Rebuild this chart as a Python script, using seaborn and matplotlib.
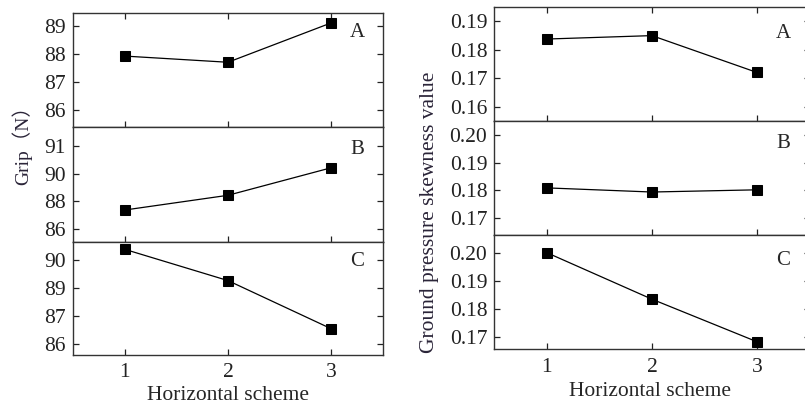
import pandas as pd
import matplotlib
matplotlib.use("Agg")
import matplotlib.pyplot as plt
import seaborn as sns

# horizontal schemes
schemes = [1, 2, 3]
panel_names = ['A', 'B', 'C']

# grip (N)
grip_a = [87.92, 87.70, 89.10]
grip_b = [87.37, 88.44, 90.44]
grip_c = [89.37, 88.26, 86.55]
grip_ticks_a = [86, 87, 88, 89]
grip_labels_a = ['86', '87', '88', '89']
grip_ticks_b = [86, 88, 90, 92]
grip_labels_b = ['86', '88', '90', '91']
grip_ticks_c = [86, 87, 88, 89]
grip_labels_c = ['86', '87', '89', '90']

# ground pressure skewness value, right column
skew_a = [0.1838, 0.1850, 0.1721]
skew_b = [0.1808, 0.1793, 0.1801]
skew_c = [0.2000, 0.1834, 0.1682]
skew_ticks_a = [0.16, 0.17, 0.18, 0.19]
skew_ticks_bc = [0.17, 0.18, 0.19, 0.20]

sns.set_style('ticks')
plt.rcParams['font.family'] = ['Liberation Serif', 'Noto Sans CJK SC', 'DejaVu Sans']
plt.rcParams['font.size'] = 15

fig = plt.figure(figsize=(8.05, 4.05), dpi=100)

# axes boxes [left, bottom, width, height]
left_pos = [[0.0907, 0.6864, 0.385, 0.2815],
            [0.0907, 0.4025, 0.385, 0.2840],
            [0.0907, 0.1235, 0.385, 0.2790]]
right_pos = [[0.614, 0.7012, 0.3916, 0.2807],
             [0.614, 0.4198, 0.3916, 0.2815],
             [0.614, 0.1375, 0.3916, 0.2822]]

left_data = [grip_a, grip_b, grip_c]
left_ticks = [grip_ticks_a, grip_ticks_b, grip_ticks_c]
left_labels = [grip_labels_a, grip_labels_b, grip_labels_c]
left_lims = [(85.4, 89.45), (85.05, 93.4), (85.62, 89.63)]
left_letter_y = [0.825, 0.80, 0.823]

right_data = [skew_a, skew_b, skew_c]
right_ticks = [skew_ticks_a, skew_ticks_bc, skew_ticks_bc]
right_lims = [(0.1551, 0.1949), (0.1637, 0.2051), (0.1655, 0.2063)]
right_letter_y = [0.774, 0.80, 0.78]


def draw_panel(pos, values, ticks, labels, lim, name, letter_y, first, last):
    ax = fig.add_axes(pos)
    df = pd.DataFrame({'scheme': schemes, 'value': values})
    sns.lineplot(data=df, x='scheme', y='value', ax=ax, color='black',
                 marker='s', markersize=6.5, markeredgecolor='black',
                 linewidth=0.9)
    ax.set_xlim(0.5, 3.5)
    ax.set_ylim(*lim)
    ax.set_xticks(schemes)
    ax.set_yticks(ticks)
    ax.set_yticklabels(labels)
    ax.set_xlabel('')
    ax.set_ylabel('')
    for sp in ax.spines.values():
        sp.set_visible(True)
        sp.set_linewidth(1.0)
        sp.set_color('#333333')
    ax.tick_params(direction='in', length=4, width=0.9, colors='#222222',
                   labelsize=15.5, right=True, top=first, bottom=True,
                   labelbottom=last)
    ax.tick_params(axis='y', pad=5)
    ax.tick_params(axis='x', pad=6)
    ax.text(0.916, letter_y, name, transform=ax.transAxes, ha='center',
            va='center', fontsize=15)
    return ax


for i in range(3):
    draw_panel(left_pos[i], left_data[i], left_ticks[i], left_labels[i],
               left_lims[i], panel_names[i], left_letter_y[i], i == 0, i == 2)
    draw_panel(right_pos[i], right_data[i], right_ticks[i],
               ['%.2f' % t for t in right_ticks[i]], right_lims[i],
               panel_names[i], right_letter_y[i], i == 0, i == 2)

label_color = '#2a2438'
fig.text(0.027, 1 - 141 / 405, 'Grip（N）', rotation=90, ha='center',
         va='center', fontsize=14, color=label_color)
fig.text(0.534, 1 - 212 / 405, 'Ground pressure skewness value', rotation=90,
         ha='center', va='center', fontsize=15.5, color=label_color)
fig.text(228 / 805, 1 - 395 / 405, 'Horizontal scheme', ha='center',
         va='center', fontsize=15.5)
fig.text(650 / 805, 1 - 392 / 405, 'Horizontal scheme', ha='center',
         va='center', fontsize=15.5)

fig.savefig('out.png', dpi=100, facecolor='white')
